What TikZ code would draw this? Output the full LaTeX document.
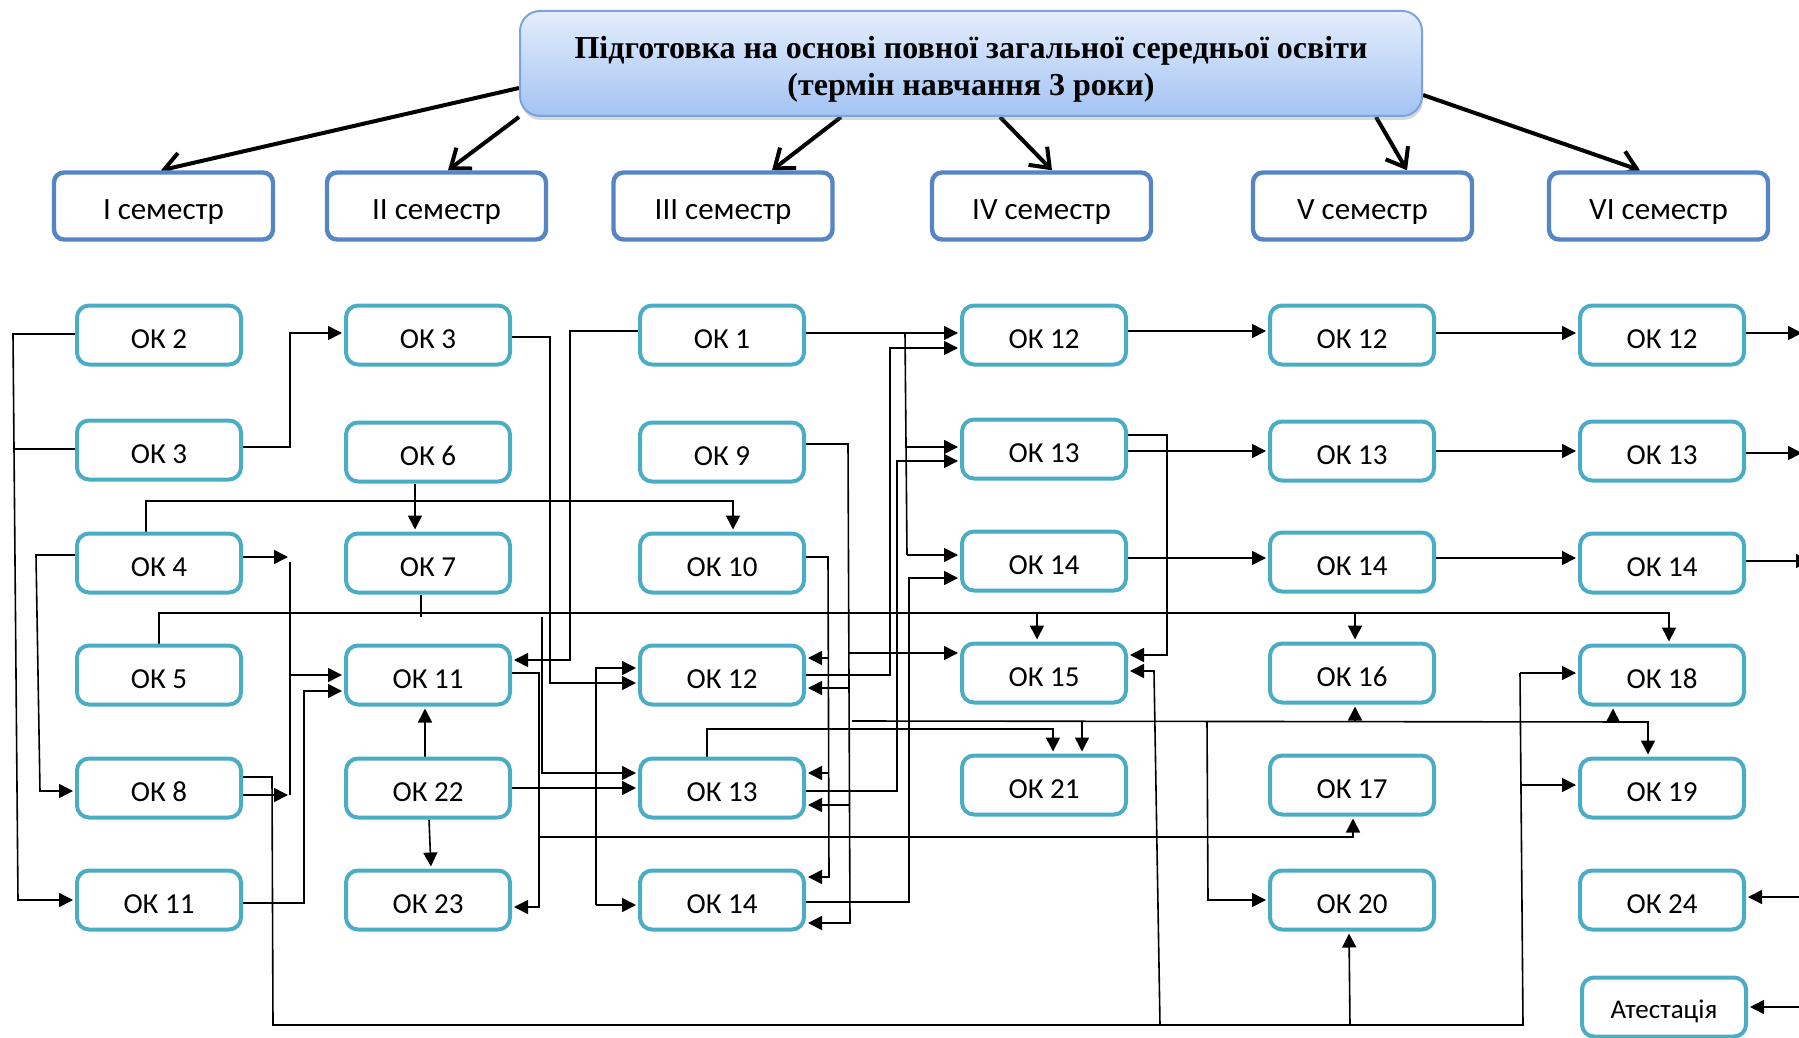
\documentclass[tikz,border=0pt]{standalone}
\usepackage{fontspec}
\setmainfont{Carlito}
\newfontfamily\hdrfont{Liberation Serif}
\usetikzlibrary{arrows.meta,shadows}
\pgfdeclarelayer{bg}
\pgfsetlayers{bg,main}
\definecolor{okc}{HTML}{4BACC6}
\definecolor{semc}{HTML}{5585C5}
\definecolor{htop}{HTML}{E4EEFC}
\definecolor{hbot}{HTML}{A3C3F3}
\definecolor{hbrd}{HTML}{7CA3DE}
\begin{document}
\begin{tikzpicture}[x=0.5pt,y=-0.5pt,
  okbox/.style={draw=okc, line width=2pt, fill=white, rounded corners=6pt, minimum width=82pt, minimum height=29.5pt, inner sep=0pt, font=\fontsize{14.5}{17}\selectfont, text height=13pt, text depth=0pt},
  sembox/.style={draw=semc, line width=2.2pt, fill=white, rounded corners=5pt, minimum width=109.5pt, minimum height=33.5pt, inner sep=0pt, font=\fontsize{15.5}{18}\selectfont, text height=13pt, text depth=0pt},
  hdrbox/.style={draw=hbrd, line width=1pt, rounded corners=10pt, top color=htop, bottom color=hbot, minimum width=451pt, minimum height=52.5pt, align=center, inner sep=0pt, font=\hdrfont\bfseries\fontsize{16}{18.5}\selectfont, drop shadow={shadow xshift=0.5pt, shadow yshift=-2pt, opacity=0.3}},
  conn/.style={line width=0.8pt},
  connar/.style={line width=0.8pt, -{Triangle[length=7pt,width=7pt]}, shorten >=1pt},
  bigar/.style={line width=2pt, -{Straight Barb[length=8.5pt,width=13pt]}},
]
\useasboundingbox (0,0) rectangle (1799,1038);

% header
\node[hdrbox] (h) at (971,63.5) {\rule{0pt}{16.5pt}Підготовка на основі повної загальної середньої освіти\\(термін навчання 3 роки)};

% semesters
\node[sembox] (s1) at (163.5,206) {I семестр};
\node[sembox] (s2) at (436.5,206) {II семестр};
\node[sembox] (s3) at (723,206) {III семестр};
\node[sembox] (s4) at (1041.5,206) {IV семестр};
\node[sembox] (s5) at (1362.5,206) {V семестр};
\node[sembox] (s6) at (1658.5,206) {VI семестр};

% column 1
\node[okbox] (a1) at (159,335) {ОК 2};
\node[okbox] (a2) at (159,450) {ОК 3};
\node[okbox] (a3) at (159,563) {ОК 4};
\node[okbox] (a4) at (159,675) {ОК 5};
\node[okbox] (a5) at (159,788) {ОК 8};
\node[okbox] (a6) at (159,900) {ОК 11};
% column 2
\node[okbox] (b1) at (428,335) {ОК 3};
\node[okbox] (b2) at (428,452) {ОК 6};
\node[okbox] (b3) at (428,563) {ОК 7};
\node[okbox] (b4) at (428,675) {ОК 11};
\node[okbox] (b5) at (428,788) {ОК 22};
\node[okbox] (b6) at (428,900) {ОК 23};
% column 3
\node[okbox] (c1) at (722,335) {ОК 1};
\node[okbox] (c2) at (722,452) {ОК 9};
\node[okbox] (c3) at (722,563) {ОК 10};
\node[okbox] (c4) at (722,675) {ОК 12};
\node[okbox] (c5) at (722,788) {ОК 13};
\node[okbox] (c6) at (722,900) {ОК 14};
% column 4
\node[okbox] (d1) at (1044,335) {ОК 12};
\node[okbox] (d2) at (1044,449) {ОК 13};
\node[okbox] (d3) at (1044,561) {ОК 14};
\node[okbox] (d4) at (1044,673) {ОК 15};
\node[okbox] (d5) at (1044,785) {ОК 21};
% column 5
\node[okbox] (e1) at (1352,335) {ОК 12};
\node[okbox] (e2) at (1352,451) {ОК 13};
\node[okbox] (e3) at (1352,562) {ОК 14};
\node[okbox] (e4) at (1352,673) {ОК 16};
\node[okbox] (e5) at (1352,785) {ОК 17};
\node[okbox] (e6) at (1352,900) {ОК 20};
% column 6
\node[okbox] (f1) at (1662,335) {ОК 12};
\node[okbox] (f2) at (1662,451) {ОК 13};
\node[okbox] (f3) at (1662,563) {ОК 14};
\node[okbox] (f4) at (1662,675) {ОК 18};
\node[okbox] (f5) at (1662,788) {ОК 19};
\node[okbox] (f6) at (1662,900) {ОК 24};
\node[okbox, font=\fontsize{13.5}{15}\selectfont, text height=11.5pt] (f7) at (1664,1007) {Атестація};

\begin{pgfonlayer}{bg}
% header arrows
\draw[bigar] (h.west |- 0,88) -- (s1.north -| 161,0);
\draw[bigar] (h.south west) -- (s2.north -| 448,0);
\draw[bigar] (h.south -| 841,0) -- (s3.north -| 772,0);
\draw[bigar] (h.south -| 1000,0) -- (s4.north -| 1052,0);
\draw[bigar] (h.south -| 1376,0) -- (s5.north -| 1407,0);
\draw[bigar] (h.east |- 0,95) -- (s6.north -| 1640,0);

% column 1 internal
\draw[connar] (a1.west |- 0,334) -- (13,334) -- (18,900) -- (a6.west |- 0,900);
\draw[conn] (a2.west |- 0,449) -- (14,449);
\draw[connar] (a3.west |- 0,555) -- (36,555) -- (40,791) -- (a5.west |- 0,791);
\draw[connar] (a3.north -| 146,0) -- (146,501) -- (733,501) -- (c3.north -| 733,0);
\draw[connar] (a2.east |- 0,447) -- (290,447) -- (290,333) -- (b1.west |- 0,333);
\draw[connar] (a3.east |- 0,557) -- (290,557);
\draw[conn] (290,562) -- (290,795);
\draw[connar] (291,675) -- (b4.west |- 0,675);
\draw[connar] (a5.east |- 0,795) -- (290,795);
\draw[connar] (a6.east |- 0,903) -- (304,903) -- (304,691) -- (b4.west |- 0,691);

% bottom bus
\draw[conn] (a5.east |- 0,777) -- (272,777) -- (273,1025) -- (1523,1025) -- (1520,673);
\draw[connar] (1520,673) -- (f4.west |- 0,673);
\draw[connar] (1522,785) -- (f5.west |- 0,785);
\draw[connar] (1160,1025) -- (1154,671) -- (d4.east |- 0,671);
\draw[connar] (1350,1025) -- (e6.south -| 1349,0);

% column 2 internal
\draw[connar] (b5.north -| 425,0) -- (b4.south -| 425,0);
\draw[connar] (b5.south -| 429,0) -- (b6.north -| 431,0);
\draw[connar] (b2.south -| 415,0) -- (b3.north -| 415,0);
\draw[conn] (b3.south -| 421,0) -- (421,617);

% bus y=613
\draw[connar] (a4.north -| 159,0) -- (159,613) -- (1669,613) -- (f4.north -| 1669,0);
\draw[connar] (1037,613) -- (d4.north -| 1037,0);
\draw[connar] (1355,613) -- (e4.north -| 1355,0);
\draw[connar] (542,617) -- (542,773) -- (c5.west |- 0,773);

% column 2 / 3
\draw[connar] (b1.east |- 0,337) -- (550,337) -- (550,683) -- (c4.west |- 0,683);
\draw[connar] (c1.west |- 0,331) -- (570,331) -- (570,660) -- (b4.east |- 0,660);
\draw[connar] (b4.east |- 0,673) -- (539,673) -- (539,907) -- (b6.east |- 0,907);
\draw[connar] (539,837) -- (1353,837) -- (e5.south -| 1353,0);
\draw[connar] (596,905) -- (596,668) -- (c4.west |- 0,668);
\draw[connar] (596,905) -- (c6.west |- 0,905);
\draw[connar] (b5.east |- 0,788) -- (c5.west |- 0,788);

% column 3 right side
\draw[connar] (c3.east |- 0,557) -- (828,557) -- (829,877) -- (c6.east |- 0,877);
\draw[connar] (828,658) -- (c4.east |- 0,658);
\draw[connar] (829,773) -- (c5.east |- 0,773);
\draw[connar] (c2.east |- 0,444) -- (848,444) -- (850,923) -- (c6.east |- 0,923);
\draw[connar] (849,688) -- (c4.east |- 0,688);
\draw[connar] (849,805) -- (c5.east |- 0,805);
\draw[connar] (848,653) -- (d4.west |- 0,653);

% line y=721
\draw[connar] (852,721) -- (1648,722) -- (f5.north -| 1648,0);
\draw[connar] (1082,721) -- (d5.north -| 1082,0);
\draw[connar] (1207,722) -- (1208,900) -- (e6.west |- 0,900);
\draw[connar] (1355,722) -- (e4.south -| 1355,0);
\draw[connar] (1613,722) -- (f4.south -| 1613,0);
\draw[connar] (c5.north -| 707,0) -- (707,729) -- (1053,729) -- (d5.north -| 1053,0);

% column 3 -> column 4
\draw[connar] (c4.east |- 0,675) -- (890,675) -- (890,348) -- (d1.west |- 0,348);
\draw[connar] (c5.east |- 0,791) -- (897,791) -- (897,461) -- (d2.west |- 0,461);
\draw[connar] (c6.east |- 0,902) -- (909,902) -- (909,578) -- (d3.west |- 0,578);
\draw[connar] (c1.east |- 0,333) -- (d1.west |- 0,333);
\draw[conn] (905,333) -- (907,555);
\draw[connar] (906,447) -- (d2.west |- 0,447);
\draw[connar] (907,555) -- (d3.west |- 0,555);

% column 4 -> 5
\draw[connar] (d1.east |- 0,331) -- (e1.west |- 0,331);
\draw[connar] (d2.east |- 0,451) -- (e2.west |- 0,451);
\draw[connar] (d2.east |- 0,435) -- (1167,435) -- (1167,655) -- (d4.east |- 0,655);
\draw[connar] (d3.east |- 0,558) -- (e3.west |- 0,558);

% column 5 -> 6
\draw[connar] (e1.east |- 0,333) -- (f1.west |- 0,333);
\draw[connar] (e2.east |- 0,451) -- (f2.west |- 0,451);
\draw[connar] (e3.east |- 0,558) -- (f3.west |- 0,558);

% column 6 right edge
\coordinate (r1) at (1804,333);
\coordinate (r2) at (1804,453);
\coordinate (r3) at (1812,561);
\coordinate (r4) at (1812,897);
\coordinate (r5) at (1812,1007);
\draw[connar] (f1.east |- 0,333) -- (r1);
\draw[connar] (f2.east |- 0,453) -- (r2);
\draw[connar] (f3.east |- 0,561) -- (r3);
\draw[connar] (r4) -- (f6.east |- 0,897);
\draw[connar] (r5) -- (f7.east |- 0,1007);
\end{pgfonlayer}
\end{tikzpicture}
\end{document}
